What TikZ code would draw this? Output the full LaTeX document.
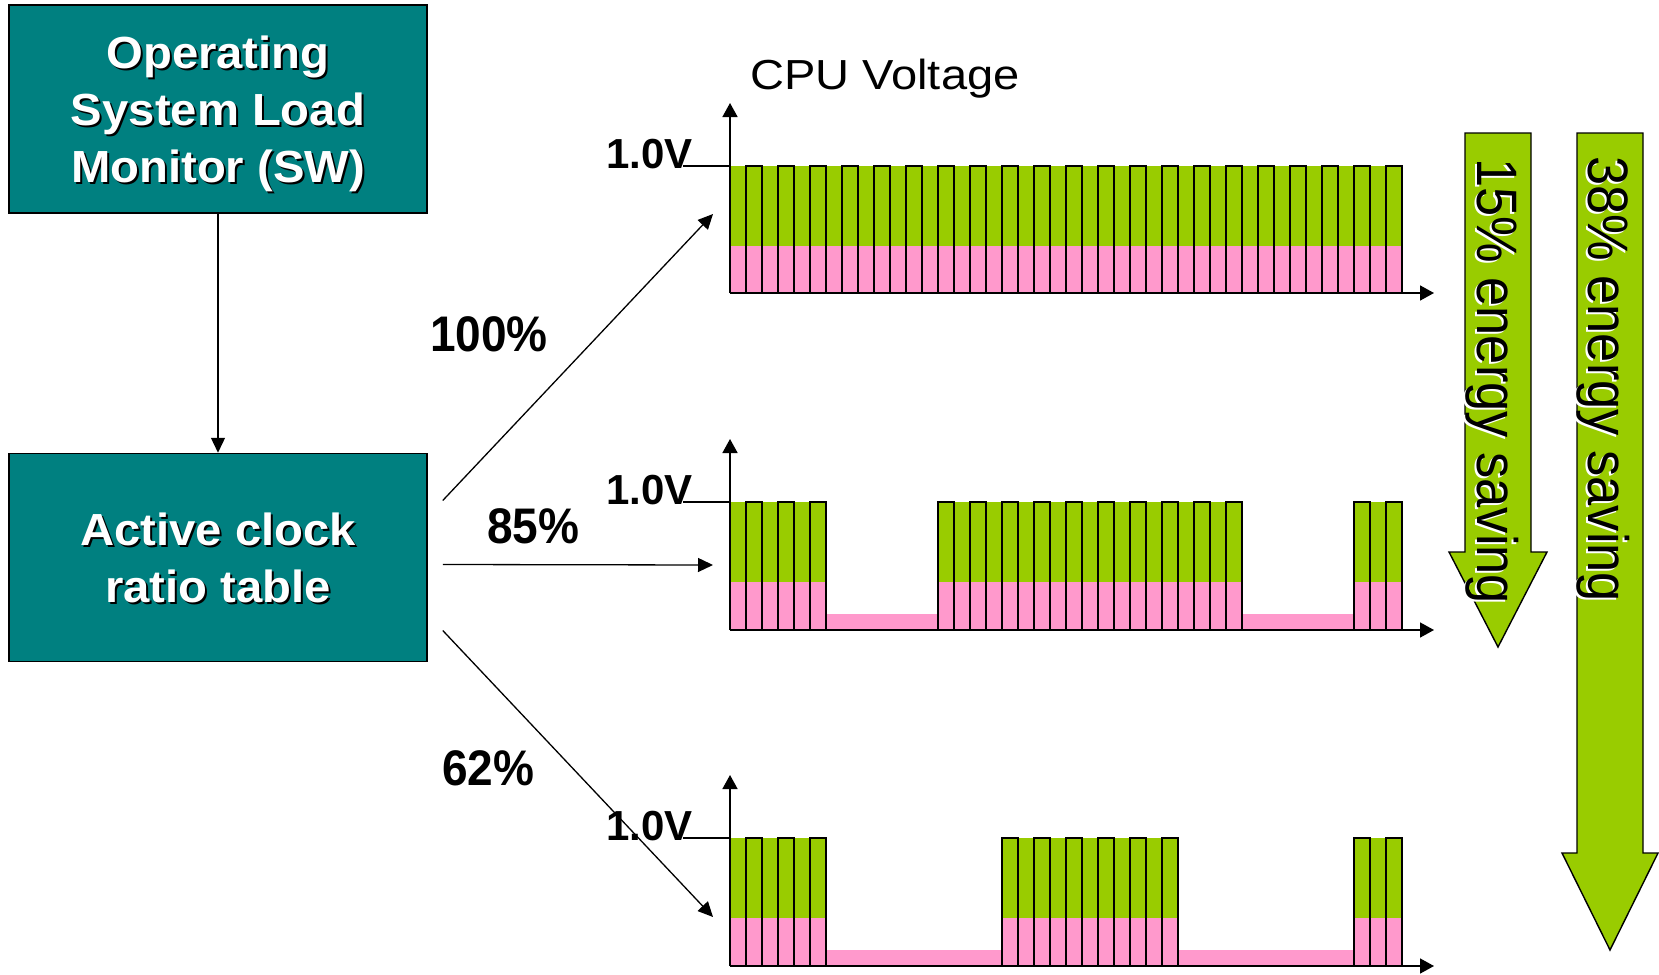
\documentclass[tikz,border=0pt]{standalone}
\usepackage{fontspec}
\setmainfont{Liberation Sans}
\newfontfamily\boxfont[FakeStretch=1.05]{Liberation Sans}
\newfontfamily\narrowfont[FakeStretch=0.92]{Liberation Sans}
\newfontfamily\widefont[FakeStretch=1.12]{Liberation Sans}
\definecolor{boxteal}{RGB}{0,128,128}
\definecolor{wavegreen}{RGB}{153,204,0}
\definecolor{leakpink}{RGB}{255,153,204}
\usetikzlibrary{arrows.meta,positioning}
\newcommand{\shtext}[2]{\makebox[0pt][l]{\kern2pt\raisebox{-2pt}{\color{#1}#2}}#2}

\begin{document}
\begin{tikzpicture}[x=1pt,y=-1pt,
    unitbox/.style={draw=black, line width=1.5pt, fill=boxteal, text=white, align=center,
      font=\boxfont\bfseries\fontsize{45}{57}\selectfont, minimum width=418pt,
      minimum height=208pt, inner sep=0pt, text depth=0pt},
    conn/.style={-{Triangle[length=15pt,width=14pt]}, line width=1.3pt},
    axisline/.style={-{Triangle[length=14pt,width=15pt]}, line width=1.6pt},
    pulse/.style={line width=2.2pt},
    tick/.style={line width=1.3pt},
    pct/.style={font=\narrowfont\bfseries\fontsize{50}{60}\selectfont, inner sep=0pt, anchor=base west},
    volt/.style={font=\bfseries\fontsize{42}{50}\selectfont, inner sep=0pt, anchor=base east},
    saving/.style={font=\narrowfont\fontsize{57}{64}\selectfont, rotate=-90, anchor=base west, inner sep=0pt}]

  \useasboundingbox (0,0) rectangle (1659,974);

  % control blocks
  \node[unitbox] (osm) at (218,109) {\shtext{black}{Operating}\\ \shtext{black}{System Load}\\ \shtext{black}{Monitor (SW)}};
  \node[unitbox] (ratio) at (218,557.5) {\shtext{black}{Active clock}\\ \shtext{black}{ratio table}};
  \draw[conn] (osm.south) -- (ratio.north);

  \node[font=\widefont\fontsize{42}{50}\selectfont, inner sep=0pt, anchor=base west] (cpuv) at (750,89) {CPU Voltage};

  % row 1: all clocks on
  \coordinate (o1) at (730,293);
  \fill[wavegreen] (730,166) rectangle (1402,246);
  \fill[leakpink] (730,246) rectangle (1402,293);
  \draw[axisline] (o1) -- (730,103);
  \draw[axisline] (o1) -- (1434,293);
  \foreach \s in {746,778,...,1386}
    \draw[pulse] (\s,293) -- (\s,166) -- (\s+16,166) -- (\s+16,293);
  \draw[pulse] (730,293) -- (1402,293);
  \node[volt] (v1) at (693,168) {1.0V};
  \draw[tick] (683,166) -- (730,166);

  % row 2: 85%
  \coordinate (o2) at (730,630);
  \fill[wavegreen] (730,502) rectangle (826,582) (938,502) rectangle (1242,582) (1354,502) rectangle (1402,582);
  \fill[leakpink] (730,582) rectangle (826,630) (938,582) rectangle (1242,630) (1354,582) rectangle (1402,630);
  \fill[leakpink] (826,614) rectangle (938,630) (1242,614) rectangle (1354,630);
  \draw[axisline] (o2) -- (730,439);
  \draw[axisline] (o2) -- (1434,630);
  \foreach \s in {746,778,810}
    \draw[pulse] (\s,630) -- (\s,502) -- (\s+16,502) -- (\s+16,630);
  \foreach \s in {938,970,...,1226}
    \draw[pulse] (\s,630) -- (\s,502) -- (\s+16,502) -- (\s+16,630);
  \foreach \s in {1354,1386}
    \draw[pulse] (\s,630) -- (\s,502) -- (\s+16,502) -- (\s+16,630);
  \draw[pulse] (730,630) -- (826,630) (938,630) -- (1242,630) (1354,630) -- (1402,630);
  \node[volt] (v2) at (693,504) {1.0V};
  \draw[tick] (683,502) -- (730,502);

  % row 3: 62%
  \coordinate (o3) at (730,966);
  \fill[wavegreen] (730,838) rectangle (826,918) (1002,838) rectangle (1178,918) (1354,838) rectangle (1402,918);
  \fill[leakpink] (730,918) rectangle (826,966) (1002,918) rectangle (1178,966) (1354,918) rectangle (1402,966);
  \fill[leakpink] (826,950) rectangle (1002,966) (1178,950) rectangle (1354,966);
  \draw[axisline] (o3) -- (730,775);
  \draw[axisline] (o3) -- (1434,966);
  \foreach \s in {746,778,810}
    \draw[pulse] (\s,966) -- (\s,838) -- (\s+16,838) -- (\s+16,966);
  \foreach \s in {1002,1034,...,1162}
    \draw[pulse] (\s,966) -- (\s,838) -- (\s+16,838) -- (\s+16,966);
  \foreach \s in {1354,1386}
    \draw[pulse] (\s,966) -- (\s,838) -- (\s+16,838) -- (\s+16,966);
  \draw[pulse] (730,966) -- (826,966) (1002,966) -- (1178,966) (1354,966) -- (1402,966);
  \node[volt] (v3) at (693,840) {1.0V};
  \draw[tick] (683,838) -- (730,838);

  % ratio branches
  \node[pct] (p100) at (430,351) {100\%};
  \node[pct] (p85) at (487,543) {85\%};
  \node[pct] (p62) at (442,785) {62\%};
  \coordinate (t1) at (713,214);
  \coordinate (t2) at (713,565);
  \coordinate (t3) at (713,917);
  \draw[conn] ([shift={(15,-57)}]ratio.east) -- (t1);
  \draw[conn] ([shift={(15,7)}]ratio.east) -- (t2);
  \draw[conn] ([shift={(15,73)}]ratio.east) -- (t3);

  % energy saving arrows
  \draw[line width=1.4pt, fill=wavegreen] (1465,133) -- (1531,133) -- (1531,552) -- (1547,552)
    -- (1498,647) -- (1449,552) -- (1465,552) -- cycle;
  \draw[line width=1.4pt, fill=wavegreen] (1577,133) -- (1643,133) -- (1643,853) -- (1658,853)
    -- (1610,950) -- (1562,853) -- (1577,853) -- cycle;
  \node[saving] (s15) at (1477,158) {\shtext{white}{15\% energy saving}};
  \node[saving] (s38) at (1588,156) {\shtext{white}{38\% energy saving}};
\end{tikzpicture}
\end{document}
